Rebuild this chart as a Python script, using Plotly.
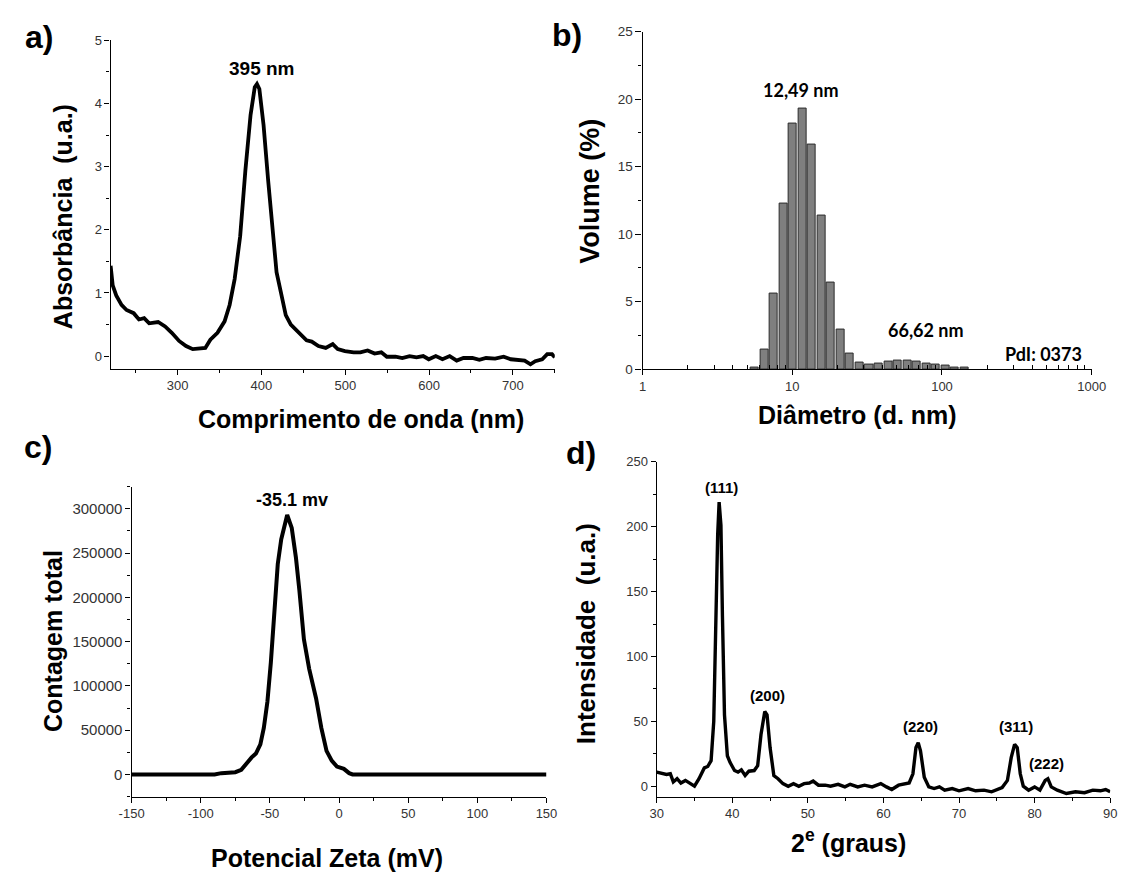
import math
import plotly.graph_objects as go

W, H = 1133, 881

# ---------------- data ----------------
# a) UV-Vis
uv_nm = [220, 222.5, 226.7, 233, 239, 247.5, 253.8, 260, 266, 276.7, 285, 293, 301.7, 310, 318,
         326.7, 333, 339, 347.5, 356, 362, 368, 374.6, 380.8, 387, 392, 394.6, 397.5, 402.5, 408,
         414, 418, 423, 429, 435, 441, 447.5, 453.8, 460, 468, 476.7, 485, 491, 499.6, 510, 518,
         526.7, 535, 543, 549.6, 560, 568, 576.7, 585, 593, 599.6, 608, 616, 624.6, 633, 641,
         651.7, 660, 668, 678.8, 689, 697.5, 705.8, 714, 721, 726.7, 735, 741, 746.7, 750]
uv_abs = [1.43, 1.12, 0.96, 0.81, 0.73, 0.68, 0.58, 0.60, 0.52, 0.54, 0.47, 0.37, 0.24, 0.16, 0.11,
          0.12, 0.13, 0.26, 0.37, 0.55, 0.81, 1.22, 1.90, 2.94, 3.82, 4.26, 4.31, 4.23, 3.66, 2.78,
          1.85, 1.33, 1.02, 0.65, 0.50, 0.42, 0.32, 0.25, 0.23, 0.16, 0.13, 0.19, 0.11, 0.08, 0.06, 0.06,
          0.09, 0.04, 0.06, -0.01, -0.01, -0.03, 0.00, -0.02, 0.00, -0.05, 0.00, -0.05, 0.00, -0.07, -0.03,
          -0.03, -0.06, -0.03, -0.04, -0.01, -0.05, -0.06, -0.07, -0.13, -0.08, -0.05, 0.03, 0.03, -0.02]

# b) DLS size distribution (volume)
dls_diam = [5.615, 6.503, 7.531, 8.721, 10.1, 11.7, 13.54, 15.69, 18.17, 21.04, 24.36, 28.21,
            32.67, 37.84, 43.82, 50.75, 58.77, 68.06, 78.82, 91.28, 105.7, 122.4, 141.8]
dls_vol = [0.15, 1.43, 5.63, 12.27, 18.16, 19.28, 16.64, 11.35, 6.43, 2.93, 1.14, 0.46,
           0.34, 0.44, 0.53, 0.63, 0.63, 0.53, 0.44, 0.32, 0.24, 0.15, 0.15]

# c) Zeta potential
zeta_mv = [-150, -140, -130, -120, -110, -100, -90, -85.1, -80, -75, -70.7, -67.4, -63.2, -60.1,
           -56.9, -54.4, -51.8, -49.3, -46.8, -44.3, -41.8, -39.3, -37.5, -34.2, -31.2, -28.7,
           -25.4, -21.6, -16.6, -12.8, -9.05, -5.3, -1.5, 3.5, 7.3, 9.8, 20, 40, 60, 80, 100, 120, 150]
zeta_counts = [0, 0, 0, 0, 0, 0, 0, 1500, 1850, 2600, 5200, 11900, 19300, 23700,
               34100, 52600, 82200, 126700, 182200, 237800, 265600, 282200, 293000, 278500, 245200, 208200,
               152600, 119300, 85900, 52600, 26700, 15600, 8900, 6300, 1500, 0, 0, 0, 0, 0, 0, 0, 0]

# d) XRD
xrd_2theta = [30, 30.6, 31.3, 31.8, 32.2, 32.7, 33.2, 33.8, 34.4, 35.0, 35.6, 36.3, 36.75, 37.2,
              37.55, 37.8, 38.07, 38.26, 38.5, 38.7, 38.97, 39.35, 39.7, 40.3, 40.76, 41.2, 41.7,
              42.2, 42.9, 43.36, 43.8, 44.3, 44.6, 45.0, 45.5, 46.05, 46.7, 47.4, 48.1, 48.8, 49.5,
              50.2, 50.7, 51.4, 52.3, 53.0, 54.0, 54.9, 55.6, 56.6, 57.5, 58.5, 59.65, 60.4, 61.1,
              62.0, 62.7, 63.4, 63.9, 64.3, 64.6, 64.9, 65.4, 66.0, 66.7, 67.4, 68.1, 69.1, 70.0,
              71.2, 72.2, 73.3, 74.3, 75.0, 75.7, 76.4, 76.9, 77.35, 77.7, 78.1, 78.5, 79.2, 80.0,
              80.7, 81.4, 81.75, 82.2, 83.0, 84.2, 85.4, 86.6, 87.7, 88.7, 89.4, 90]
xrd_int = [10.9, 10.1, 9.1, 9.6, 3.3, 5.8, 2.5, 4.5, 2.5, 0, 5.8, 14.1, 15.2, 19.7,
           50, 131, 194, 219, 201, 131, 55, 23.5, 18.4, 12.1, 10.9, 12.6, 8.3,
           11.6, 12.1, 15.9, 39.9, 57.6, 55, 29.8, 8.3, 5.8, 2, 0, 2, 0, 2,
           2.5, 4, 0.8, 0.8, 0, 1.5, -0.5, 1.5, -0.5, 0.8, -0.5, 2, -0.5, -2.5,
           0.8, 1.5, 2.5, 9.6, 29.8, 33.6, 27.3, 7, -0.5, -1.8, -0.5, -3, -1.8, -3.5,
           -1.8, -3.5, -3, -4.3, -2.5, -1, 4.5, 22, 32.3, 29.8, 9.6, 0, -3, -0.5,
           -3, 4.5, 5.8, -0.5, -3, -5.6, -4.3, -5, -3, -3.5, -2.5, -4.3]
xrd_peak_labels = ["(111)", "(200)", "(220)", "(311)", "(222)"]
xrd_peak_x = [38.64, 44.64, 64.84, 77.6, 81.6]
xrd_peak_y = [230.5, 69.7, 45.7, 45.7, 17.2]

# ---------------- helpers ----------------
def px(x):
    return x / W

def py(y):
    return 1 - y / H

ARIAL = "Liberation Sans, Arial, sans-serif"
CALIBRI = "Lato, Carlito, sans-serif"
TICKFONT = dict(family=ARIAL, size=13, color="#333")

def axis_common(**kw):
    d = dict(showline=True, linecolor="black", linewidth=1.3, ticks="outside", ticklen=5,
             tickwidth=1.2, tickcolor="black", showgrid=False, zeroline=False, mirror=False,
             tickfont=TICKFONT, fixedrange=True)
    d.update(kw)
    return d

fig = go.Figure()

# a)
fig.add_trace(go.Scatter(x=uv_nm, y=uv_abs, mode="lines", line=dict(color="black", width=3.8),
                         xaxis="x", yaxis="y", showlegend=False))
# b)
half = 0.027
bar_w = [d * (10 ** half - 10 ** (-half)) for d in dls_diam]
fig.add_trace(go.Bar(x=dls_diam, y=dls_vol, width=bar_w, marker=dict(color="#7f7f7f",
                     line=dict(color="#2b2b2b", width=1)), xaxis="x2", yaxis="y2", showlegend=False))
# c)
fig.add_trace(go.Scatter(x=zeta_mv, y=zeta_counts, mode="lines", line=dict(color="black", width=4),
                         xaxis="x3", yaxis="y3", showlegend=False))
# d)
fig.add_trace(go.Scatter(x=xrd_2theta, y=xrd_int, mode="lines", line=dict(color="black", width=3.4),
                         xaxis="x4", yaxis="y4", showlegend=False))

c_xt = list(range(-150, 151, 50))
c_yt = list(range(0, 300001, 50000))

fig.update_layout(
    width=W, height=H, margin=dict(l=0, r=0, t=0, b=0),
    paper_bgcolor="white", plot_bgcolor="white", showlegend=False, bargap=0,
    xaxis=axis_common(domain=[px(100), px(555)], range=[220, 750], anchor="y",
                      tickmode="array", tickvals=[300, 400, 500, 600, 700],
                      minor=dict(ticks="outside", ticklen=3, tickcolor="black", dtick=50, tick0=250)),
    yaxis=axis_common(domain=[py(368), py(34)], range=[-0.2, 5], anchor="x",
                      tickmode="linear", tick0=0, dtick=1,
                      minor=dict(ticks="outside", ticklen=3, tickcolor="black", dtick=0.5, tick0=0)),
    xaxis2=axis_common(domain=[px(645), px(1105)], type="log", range=[0, 3], anchor="y2",
                       tickmode="array", tickvals=[1, 10, 100, 1000], ticktext=["1", "10", "100", "1000"],
                       minor=dict(ticks="inside", ticklen=4, tickcolor="black", tickmode="array",
                                  tickvals=[m * 10 ** e for e in range(3) for m in range(2, 10)])),
    yaxis2=axis_common(domain=[py(368.5), py(25)], range=[0, 25], anchor="x2",
                       tickmode="linear", tick0=0, dtick=5, ticklen=6,
                       tickfont=dict(family=ARIAL, size=13.5, color="#333"),
                       minor=dict(ticks="outside", ticklen=3, tickcolor="black", dtick=2.5, tick0=0)),
    xaxis3=axis_common(domain=[px(121.5), px(546.5)], range=[-150, 150], anchor="y3",
                       tickmode="array", tickvals=c_xt, ticktext=[str(v) for v in c_xt],
                       minor=dict(ticks="outside", ticklen=3, tickcolor="black", dtick=25, tick0=-150)),
    yaxis3=axis_common(domain=[py(803.3), py(488)], range=[-25000, 325000], anchor="x3",
                       tickmode="array", tickvals=c_yt, ticktext=[str(v) for v in c_yt],
                       tickfont=dict(family=ARIAL, size=15, color="#333"),
                       minor=dict(ticks="outside", ticklen=3, tickcolor="black", dtick=25000, tick0=0)),
    xaxis4=axis_common(domain=[px(659.4), px(1124)], range=[30, 90], anchor="y4",
                       tickmode="linear", tick0=30, dtick=10,
                       minor=dict(ticks="outside", ticklen=3, tickcolor="black", dtick=5, tick0=30)),
    yaxis4=axis_common(domain=[py(803.3), py(462.7)], range=[-8, 250], anchor="x4",
                       tickmode="linear", tick0=0, dtick=50,
                       minor=dict(ticks="outside", ticklen=3, tickcolor="black", dtick=25, tick0=0)),
)

ann = []

def paper_text(text, x, y, size, angle=0, family=ARIAL):
    ann.append(dict(text=text, x=px(x), y=py(y), xref="paper", yref="paper", showarrow=False,
                    xanchor="center", yanchor="middle", textangle=angle,
                    font=dict(family=family, size=size, color="black")))

# panel letters
paper_text("<b>a)</b>", 26.5, 31, 32)
paper_text("<b>b)</b>", 568, 28, 32)
paper_text("<b>c)</b>", 26, 447.5, 32)
paper_text("<b>d)</b>", 582, 454, 32)

# axis titles
paper_text("<b>Absorbância  (u.a.)</b>", 52, 213, 25, -90)
paper_text("<b>Comprimento de onda (nm)</b>", 356, 419, 25)
paper_text("<b>Volume (%)</b>", 591, 187, 27, -90)
paper_text("<b>Diâmetro (d. nm)</b>", 865, 415, 25)
paper_text("<b>Contagem total</b>", 41, 645, 25, -90)
paper_text("<b>Potencial Zeta (mV)</b>", 322, 866, 25)
paper_text("<b>Intensidade  (u.a.)</b>", 587, 638, 26, -90)
paper_text("<b>2<sup>e</sup> (graus)</b>", 856, 848, 25)

def data_text(text, x, y, xr, yr, size, family=ARIAL):
    ann.append(dict(text=text, x=x, y=y, xref=xr, yref=yr, showarrow=False,
                    xanchor="center", yanchor="middle",
                    font=dict(family=family, size=size, color="black")))

data_text("<b>395 nm</b>", 400, 4.55, "x", "y", 19)
data_text("<b>12,49 nm</b>", math.log10(11.5), 20.7, "x2", "y2", 18, CALIBRI)
data_text("<b>66,62 nm</b>", math.log10(78), 2.93, "x2", "y2", 18, CALIBRI)
data_text("<b>PdI: 0373</b>", math.log10(480), 1.16, "x2", "y2", 18, CALIBRI)
data_text("<b>-35.1 mv</b>", -34.2, 310000, "x3", "y3", 18)
for lab, xv, yv in zip(xrd_peak_labels, xrd_peak_x, xrd_peak_y):
    data_text("<b>" + lab + "</b>", xv, yv, "x4", "y4", 15)

fig.update_layout(annotations=ann)
fig.write_html("out.html")
